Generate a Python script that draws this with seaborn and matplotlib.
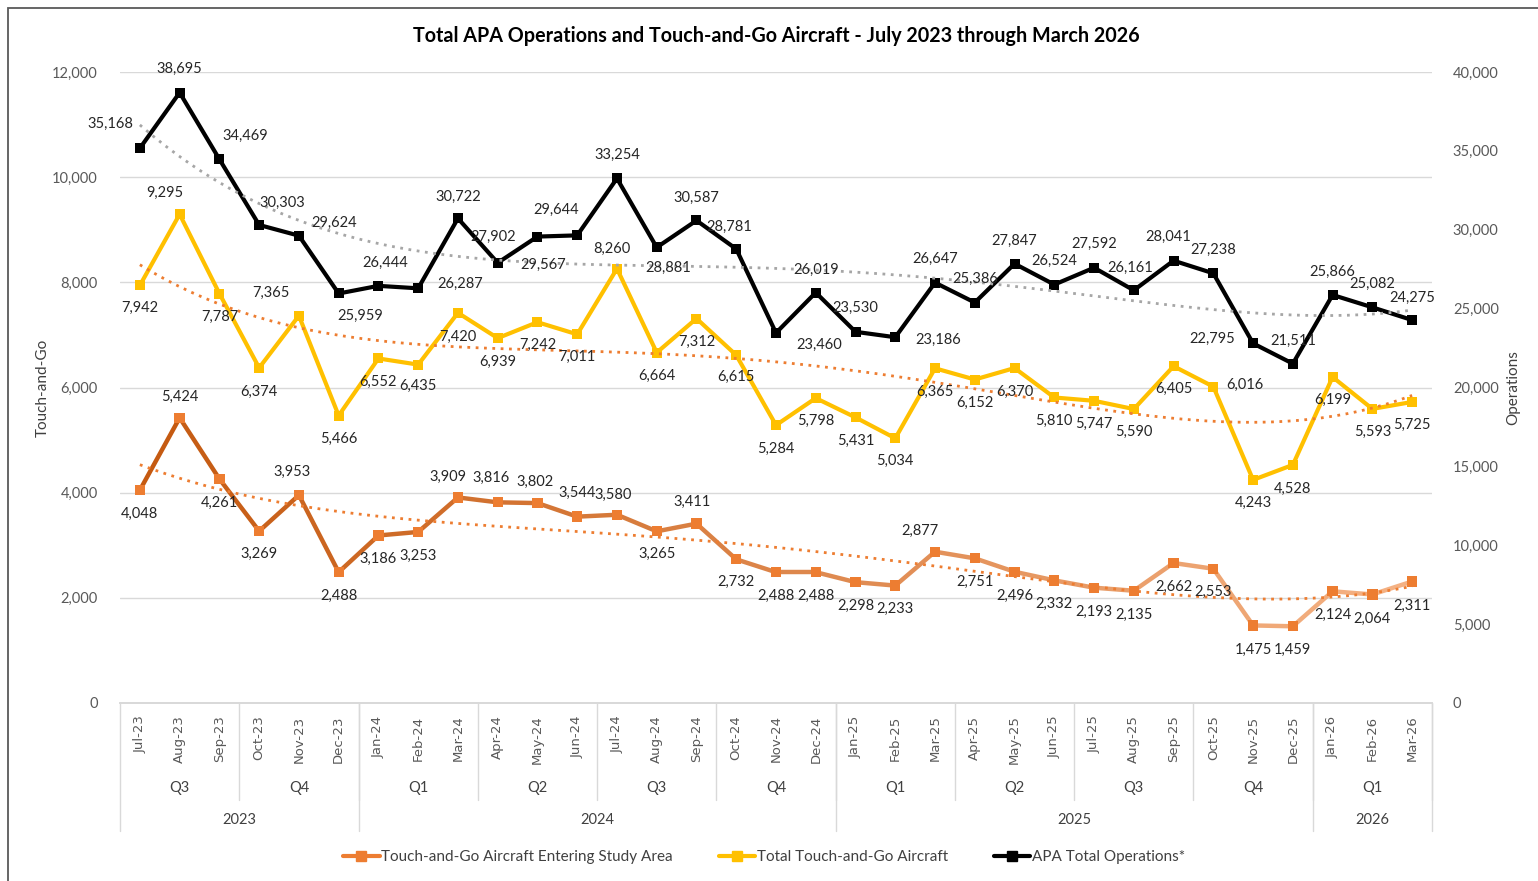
import numpy as np
import matplotlib.pyplot as plt
import seaborn as sns
from matplotlib.collections import LineCollection
from matplotlib.colors import LinearSegmentedColormap
from matplotlib.lines import Line2D
from matplotlib.patches import Rectangle

# monthly categories and the three series
months = ['Jul-23', 'Aug-23', 'Sep-23', 'Oct-23', 'Nov-23', 'Dec-23',
          'Jan-24', 'Feb-24', 'Mar-24', 'Apr-24', 'May-24', 'Jun-24',
          'Jul-24', 'Aug-24', 'Sep-24', 'Oct-24', 'Nov-24', 'Dec-24',
          'Jan-25', 'Feb-25', 'Mar-25', 'Apr-25', 'May-25', 'Jun-25',
          'Jul-25', 'Aug-25', 'Sep-25', 'Oct-25', 'Nov-25', 'Dec-25',
          'Jan-26', 'Feb-26', 'Mar-26']
touch_study = [4048, 5424, 4261, 3269, 3953, 2488, 3186, 3253, 3909, 3816, 3802,
               3544, 3580, 3265, 3411, 2732, 2488, 2488, 2298, 2233, 2877, 2751,
               2496, 2332, 2193, 2135, 2662, 2553, 1475, 1459, 2124, 2064, 2311]
touch_total = [7942, 9295, 7787, 6374, 7365, 5466, 6552, 6435, 7420, 6939, 7242,
               7011, 8260, 6664, 7312, 6615, 5284, 5798, 5431, 5034, 6365, 6152,
               6370, 5810, 5747, 5590, 6405, 6016, 4243, 4528, 6199, 5593, 5725]
apa_ops = [35168, 38695, 34469, 30303, 29624, 25959, 26444, 26287, 30722, 27902,
           29567, 29644, 33254, 28881, 30587, 28781, 23460, 26019, 23530, 23186,
           26647, 25386, 27847, 26524, 27592, 26161, 28041, 27238, 22795, 21511,
           25866, 25082, 24275]

# data label offsets in pixels (dx, dy with dy pointing down)
off_study = [(0, 24), (0, -21), (0, 24), (0, 23), (-7, -23), (0, 24), (0, 23), (0, 24),
             (-10, -21), (-7, -24), (-2, -21), (0, -24), (-4, -20), (0, 23), (-4, -22),
             (0, 23), (0, 24), (0, 24), (0, 24), (0, 23), (-15, -21), (0, 24), (0, 24),
             (0, 24), (0, 24), (0, 24), (0, 24), (0, 23), (0, 24), (0, 24), (0, 24),
             (0, 24), (0, 24)]
off_total = [(0, 23), (-15, -21), (0, 23), (0, 24), (-28, -23), (0, 23), (0, 23), (0, 21),
             (0, 24), (0, 24), (0, 23), (0, 23), (-5, -20), (0, 23), (0, 23), (0, 22),
             (0, 24), (0, 23), (0, 23), (0, 23), (0, 24), (0, 23), (0, 24), (0, 23),
             (0, 23), (0, 23), (0, 23), (32, -2), (0, 23), (0, 24), (0, 23), (0, 23),
             (0, 23)]
off_ops = [(-30, -24), (0, -24), (26, -23), (23, -22), (35, -13), (22, 22), (7, -23),
           (42, -4), (0, -21), (-5, -26), (6, 28), (-21, -25), (0, -24), (11, 20),
           (0, -23), (-7, -22), (43, 12), (0, -23), (0, -24), (43, 3), (0, -24), (0, -24),
           (0, -23), (0, -24), (0, -24), (-4, -22), (-5, -24), (0, -23), (-41, -5),
           (0, -23), (0, -23), (0, -23), (0, -22)]

sns.set_theme(style='white')
plt.rcParams['font.family'] = ['Lato', 'DejaVu Sans']

fig = plt.figure(figsize=(15.38, 8.81), dpi=100)
ax = fig.add_axes([120 / 1538, 1 - 703 / 881, 1312 / 1538, 631 / 881])
ax2 = ax.twinx()
x = np.arange(len(months))

# orange series with a dark-to-light gradient line
cmap = LinearSegmentedColormap.from_list('org', ['#C55A11', '#F4B183'])
pts = np.column_stack([x, touch_study])
segs = np.stack([pts[:-1], pts[1:]], axis=1)
lc = LineCollection(segs, colors=cmap(np.linspace(0, 1, len(segs))), linewidths=3.2,
                    capstyle='round', joinstyle='round', zorder=3)
ax.add_collection(lc)
sns.scatterplot(x=x, y=touch_study, ax=ax, marker='s', s=55, color='#ED7D31',
                edgecolor='none', zorder=4)

sns.lineplot(x=x, y=touch_total, ax=ax, color='#FFC000', marker='s', markersize=7.5,
             markeredgewidth=0, linewidth=3, zorder=3)
sns.lineplot(x=x, y=apa_ops, ax=ax2, color='black', marker='s', markersize=7.5,
             markeredgewidth=0, linewidth=3, zorder=3)

# polynomial trendlines
trend_kw = dict(order=4, ci=None, scatter=False, truncate=True)
sns.regplot(x=x, y=touch_study, ax=ax, line_kws=dict(color='#ED7D31', ls=(0, (1, 2)), lw=2, zorder=5), **trend_kw)
sns.regplot(x=x, y=touch_total, ax=ax, line_kws=dict(color='#ED7D31', ls=(0, (1, 2)), lw=2, zorder=5), **trend_kw)
sns.regplot(x=x, y=apa_ops, ax=ax2, line_kws=dict(color='#A6A6A6', ls=(0, (1, 2)), lw=2, zorder=5), **trend_kw)


def put_labels(axis, vals, offs):
    for i, (v, (dx, dy)) in enumerate(zip(vals, offs)):
        axis.annotate(f'{v:,}', (i, v), xytext=(dx, -dy), textcoords='offset pixels',
                      ha='center', va='center', fontsize=10.5, color='#262626', zorder=6)


put_labels(ax, touch_study, off_study)
put_labels(ax, touch_total, off_total)
put_labels(ax2, apa_ops, off_ops)

ax.set_xlim(-0.5, len(months) - 0.5)
ax.set_ylim(0, 12000)
ax2.set_ylim(0, 40000)
ax.set_yticks(range(0, 12001, 2000))
ax2.set_yticks(range(0, 40001, 5000))
ax.yaxis.set_major_formatter(lambda v, p: f'{int(v):,}')
ax2.yaxis.set_major_formatter(lambda v, p: f'{int(v):,}')
ax.grid(axis='y', color='#D9D9D9', lw=1)
ax.set_axisbelow(True)
for a in (ax, ax2):
    for s in ('top', 'left', 'right'):
        a.spines[s].set_visible(False)
    a.spines['bottom'].set_color('#D9D9D9')
    a.set_xlabel('')
    a.set_ylabel('')
ax.tick_params(axis='y', length=0, pad=16, labelsize=10.5, labelcolor='#595959')
ax2.tick_params(axis='y', length=0, pad=15, labelsize=10.5, labelcolor='#595959')

ax.set_xticks(x)
ax.set_xticklabels(months, rotation=90, fontsize=9.5, color='#595959', family='DejaVu Sans')
ax.tick_params(axis='x', length=0, pad=9)

# multi-level category axis: quarters and years
month_names = ['Jan', 'Feb', 'Mar', 'Apr', 'May', 'Jun', 'Jul', 'Aug', 'Sep', 'Oct', 'Nov', 'Dec']
quarters = [f'Q{month_names.index(m[:3]) // 3 + 1}' for m in months]
years = ['20' + m[-2:] for m in months]
trans = ax.get_xaxis_transform()
q_bot = -(800 - 703) / 631
y_bot = -(831 - 703) / 631


def groups(keys):
    out, start = [], 0
    for i in range(1, len(keys) + 1):
        if i == len(keys) or keys[i] != keys[start]:
            out.append((start, i - 1, keys[start]))
            start = i
    return out


for s, e, k in groups([y + q for y, q in zip(years, quarters)]):
    ax.text((s + e) / 2, -(788 - 703) / 631, k[4:], transform=trans, ha='center', va='center',
            fontsize=10.5, color='#404040')
    ax.plot([e + 0.5, e + 0.5], [0, q_bot], transform=trans, color='#D9D9D9', lw=1, clip_on=False)
for s, e, k in groups(years):
    ax.text((s + e) / 2, -(820 - 703) / 631, k, transform=trans, ha='center', va='center',
            fontsize=10.5, color='#404040')
    ax.plot([e + 0.5, e + 0.5], [0, y_bot], transform=trans, color='#D9D9D9', lw=1, clip_on=False)
ax.plot([-0.5, -0.5], [0, y_bot], transform=trans, color='#D9D9D9', lw=1, clip_on=False)

fig.text(776 / 1538, 1 - 36 / 881, 'Total APA Operations and Touch-and-Go Aircraft - July 2023 through March 2026',
         ha='center', va='center', fontsize=14.2, fontweight='bold', color='black')
fig.text(43 / 1538, 1 - 388 / 881, 'Touch-and-Go', rotation=90, ha='center', va='center',
         fontsize=11, color='#404040')
fig.text(1513 / 1538, 1 - 388 / 881, 'Operations', rotation=90, ha='center', va='center',
         fontsize=11, color='#404040')

handles = [Line2D([], [], color='#ED7D31', lw=3, marker='s', markersize=7),
           Line2D([], [], color='#FFC000', lw=3, marker='s', markersize=7),
           Line2D([], [], color='black', lw=3, marker='s', markersize=7)]
fig.legend(handles, ['Touch-and-Go Aircraft Entering Study Area', 'Total Touch-and-Go Aircraft',
                     'APA Total Operations*'],
           loc='center', bbox_to_anchor=(764 / 1538, 1 - 857 / 881), ncol=3, frameon=False,
           fontsize=11, handlelength=2.4, handletextpad=0.1, columnspacing=3.0,
           labelcolor='#404040')

fig.add_artist(Rectangle((8 / 1538, -0.05), 1.2, 1.05 - 8 / 881, transform=fig.transFigure,
                         fill=False, ec='#595959', lw=1.3))

fig.savefig('out.png', dpi=100)
